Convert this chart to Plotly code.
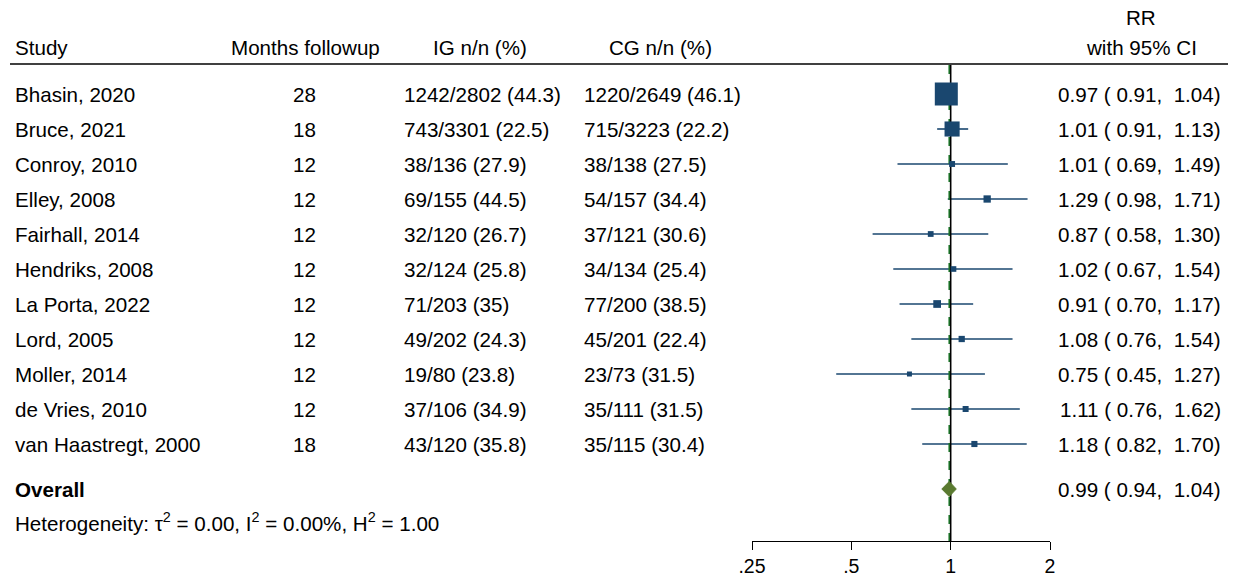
import plotly.graph_objects as go
import numpy as np

W, H = 1233, 577

studies = ["Bhasin, 2020", "Bruce, 2021", "Conroy, 2010", "Elley, 2008", "Fairhall, 2014",
           "Hendriks, 2008", "La Porta, 2022", "Lord, 2005", "Moller, 2014", "de Vries, 2010",
           "van Haastregt, 2000"]
months = [28, 18, 12, 12, 12, 12, 12, 12, 12, 12, 18]
ig = ["1242/2802 (44.3)", "743/3301 (22.5)", "38/136 (27.9)", "69/155 (44.5)", "32/120 (26.7)",
      "32/124 (25.8)", "71/203 (35)", "49/202 (24.3)", "19/80 (23.8)", "37/106 (34.9)",
      "43/120 (35.8)"]
cg = ["1220/2649 (46.1)", "715/3223 (22.2)", "38/138 (27.5)", "54/157 (34.4)", "37/121 (30.6)",
      "34/134 (25.4)", "77/200 (38.5)", "45/201 (22.4)", "23/73 (31.5)", "35/111 (31.5)",
      "35/115 (30.4)"]
rr = [0.97, 1.01, 1.01, 1.29, 0.87, 1.02, 0.91, 1.08, 0.75, 1.11, 1.18]
lcl = [0.91, 0.91, 0.69, 0.98, 0.58, 0.67, 0.70, 0.76, 0.45, 0.76, 0.82]
ucl = [1.04, 1.13, 1.49, 1.71, 1.30, 1.54, 1.17, 1.54, 1.27, 1.62, 1.70]
weight = [58.6, 22.3, 1.76, 3.38, 1.61, 1.51, 3.96, 2.10, 0.97, 1.83, 1.97]
overall = (0.99, 0.94, 1.04)
tick_vals = [0.25, 0.5, 1, 2]
tick_text = [".25", ".5", "1", "2"]

FONT = "Liberation Sans, Arial, sans-serif"
FS = 20.6
NAVY = "#1a476f"
OLIVE = "#5a7a30"
GREEN = "#1d7a2a"

# row geometry (row units)
ROW0, ROWH = 94, 35
def r(ypix):
    return (ypix - ROW0) / ROWH

rows = list(range(len(studies)))
r_overall = r(489)
r_het = r(522)
r_head = r(47)
r_rr = r(17)
r_line = r(64)
r_axis = r(541)

fig = go.Figure()

# CI lines
for i in rows:
    fig.add_trace(go.Scatter(x=[lcl[i], ucl[i]], y=[i, i], mode="lines",
                             line=dict(color=NAVY, width=1.6), hoverinfo="skip", showlegend=False))

# vertical lines
fig.add_trace(go.Scatter(x=[overall[0], overall[0]], y=[r(65), r_axis], mode="lines",
                         line=dict(color=GREEN, width=1.6, dash="dash"), showlegend=False))
fig.add_trace(go.Scatter(x=[1, 1], y=[r(65), r_axis], mode="lines",
                         line=dict(color="black", width=1.6), showlegend=False))

sizes = [2.34 + 2.7 * np.sqrt(w) for w in weight]
fig.add_trace(go.Scatter(x=rr, y=rows, mode="markers",
                         marker=dict(symbol="square", size=sizes, color=NAVY, opacity=1,
                                     line=dict(width=0)),
                         showlegend=False))

# overall diamond
dh = 7.5 / ROWH
fig.add_trace(go.Scatter(x=[overall[1], overall[0], overall[2], overall[0], overall[1]],
                         y=[r_overall, r_overall - dh, r_overall, r_overall + dh, r_overall],
                         mode="lines", fill="toself", fillcolor=OLIVE,
                         line=dict(color=OLIVE, width=1), showlegend=False))

ann = []
PAD = {"left": -2.5, "center": 0, "right": 2.5}
def txt(x, y, s, anchor="left", bold=False):
    ann.append(dict(x=(x + PAD[anchor]) / W, y=y, xref="paper", yref="y",
                    text=("<b>%s</b>" % s) if bold else s,
                    showarrow=False, xanchor=anchor, yanchor="middle", borderpad=0,
                    font=dict(family=FONT, size=FS, color="black")))

# headers
txt(16, r_head, "Study")
txt(305, r_head, "Months followup", "center")
txt(480, r_head, "IG n/n (%)", "center")
txt(660, r_head, "CG n/n (%)", "center")
txt(1141, r_rr, "RR", "center")
txt(1141, r_head, "with 95% CI", "center")

for i in rows:
    txt(16, i, studies[i])
    txt(304, i, str(months[i]), "center")
    txt(405, i, ig[i])
    txt(585, i, cg[i])
    txt(1219, i, "%.2f ( %.2f,  %.2f)" % (rr[i], lcl[i], ucl[i]), "right")

txt(16, r_overall, "Overall", bold=True)
txt(1219, r_overall, "%.2f ( %.2f,  %.2f)" % overall, "right")
txt(16, r_het, "Heterogeneity: τ<sup>2</sup> = 0.00, I<sup>2</sup> = 0.00%, H<sup>2</sup> = 1.00")

fig.update_layout(
    width=W, height=H, margin=dict(l=0, r=0, t=0, b=0, autoexpand=False),
    plot_bgcolor="white", paper_bgcolor="white",
    annotations=ann,
    shapes=[dict(type="line", xref="paper", yref="y", x0=10 / W, x1=1228 / W,
                 y0=r_line, y1=r_line, line=dict(color="black", width=1.5))],
    xaxis=dict(type="log", range=[np.log10(0.25), np.log10(2)],
               domain=[752 / W, 1050 / W], anchor="free", position=1 - 541 / H,
               showline=True, linecolor="black", linewidth=1.2,
               ticks="outside", ticklen=8, tickwidth=1.2, tickcolor="black",
               ticklabelstandoff=-1,
               tickvals=tick_vals, ticktext=tick_text, showgrid=False, zeroline=False,
               tickfont=dict(family=FONT, size=19.5, color="black")),
    yaxis=dict(range=[r(H), r(0)], domain=[0, 1], visible=False),
)

fig.write_html("out.html", config={"displayModeBar": False},
               post_script="document.body.style.margin='0px';")
